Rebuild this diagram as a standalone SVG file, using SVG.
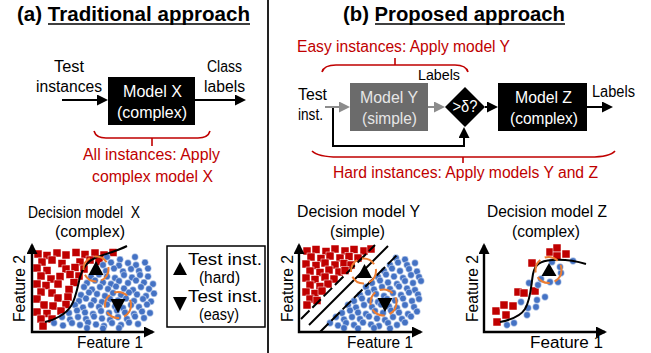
<svg xmlns="http://www.w3.org/2000/svg" xmlns:xlink="http://www.w3.org/1999/xlink" width="651" height="353" viewBox="0 0 651 353">
  <style>
    text { font-family: "Liberation Sans", Arial, sans-serif; font-size: 16px; fill: #000; }
    .title { font-weight: bold; font-size: 20px; }
    .mid { text-anchor: middle; }
    .red { fill: #c00000; }
    .wht { fill: #fff; }
    .lgt { fill: #e6e6e6; }
    .small { font-size: 14px; }
    .uline { stroke: #000; stroke-width: 1.6; }
    .brace { fill: none; stroke: #c00000; stroke-width: 1.6; }
    .conn { fill: none; stroke: #000; stroke-width: 2; }
    .gconn { fill: none; stroke: #8c8c8c; stroke-width: 2; }
    .axis { fill: none; stroke: #000; stroke-width: 2.4; }
    .curve { fill: none; stroke: #000; stroke-width: 2; }
    .sep { fill: none; stroke: #000; stroke-width: 2; }
    .sep.dash { stroke-dasharray: 12 4; }
    .ring { fill: none; stroke: #ed7d31; stroke-width: 2; stroke-dasharray: 14 5; }
    .tri { fill: #000; }
  </style>
  <defs>
    <marker id="ah" markerUnits="userSpaceOnUse" markerWidth="11" markerHeight="11" refX="9" refY="5.5" orient="auto-start-reverse">
      <path d="M0,0 L11,5.5 L0,11 z" fill="#000"/>
    </marker>
    <marker id="ahg" markerUnits="userSpaceOnUse" markerWidth="11" markerHeight="11" refX="9" refY="5.5" orient="auto">
      <path d="M0,0 L11,5.5 L0,11 z" fill="#8c8c8c"/>
    </marker>
    <rect id="sq" x="-4" y="-4" width="8" height="8" fill="#c00000" stroke="#fff" stroke-width="0.5"/>
    <circle id="dt" r="3.4" fill="#4472c4" stroke="#fff" stroke-width="0.5"/>
  </defs>

  <!-- divider between the two halves -->
  <line x1="268" y1="0" x2="268" y2="353" stroke="#222" stroke-width="2"/>

  <!-- ===== (a) Traditional approach ===== -->
  <g id="title-a">
    <text class="title" x="17" y="21" textLength="233" lengthAdjust="spacingAndGlyphs">(a) Traditional approach</text>
    <line class="uline" x1="48" y1="24" x2="250" y2="24"/>
  </g>
  <g id="node-test-instances">
    <text class="mid" x="69" y="72" textLength="30" lengthAdjust="spacingAndGlyphs">Test</text>
    <text class="mid" x="69" y="92" textLength="66" lengthAdjust="spacingAndGlyphs">instances</text>
  </g>
  <g id="node-model-x">
    <rect x="108" y="77" width="87" height="48" fill="#000"/>
    <text class="mid wht" x="152.5" y="97" textLength="59" lengthAdjust="spacingAndGlyphs">Model X</text>
    <text class="mid wht" x="152" y="118" textLength="70" lengthAdjust="spacingAndGlyphs">(complex)</text>
  </g>
  <g id="node-class-labels">
    <text class="mid" x="224.5" y="72" textLength="35" lengthAdjust="spacingAndGlyphs">Class</text>
    <text class="mid" x="224.5" y="92" textLength="41" lengthAdjust="spacingAndGlyphs">labels</text>
  </g>
  <g id="note-all-instances">
    <path class="brace" d="M94,131 Q96,138 106,138 H198 Q208,138 210,131 M152,138 V146"/>
    <text class="mid red" x="151.5" y="160" textLength="137" lengthAdjust="spacingAndGlyphs">All instances: Apply</text>
    <text class="mid red" x="152.5" y="182" textLength="121" lengthAdjust="spacingAndGlyphs">complex model X</text>
  </g>

  <!-- ===== (b) Proposed approach ===== -->
  <g id="title-b">
    <text class="title" x="343" y="21" textLength="222" lengthAdjust="spacingAndGlyphs">(b) Proposed approach</text>
    <line class="uline" x1="375" y1="24" x2="565" y2="24"/>
  </g>
  <g id="note-easy">
    <text class="mid red" x="403.5" y="52" textLength="213" lengthAdjust="spacingAndGlyphs">Easy instances: Apply model Y</text>
    <path class="brace" d="M322,72 Q324,65 336,65 H455 Q466,65 468,72 M395,65 V58"/>
  </g>
  <g id="label-y-out">
    <text class="mid small" x="439" y="80" textLength="42" lengthAdjust="spacingAndGlyphs">Labels</text>
  </g>
  <g id="node-test-inst">
    <text x="298" y="100" textLength="29" lengthAdjust="spacingAndGlyphs">Test</text>
    <text x="298" y="120" textLength="25" lengthAdjust="spacingAndGlyphs">inst.</text>
  </g>
  <g id="node-model-y">
    <rect x="350" y="83" width="78" height="48" fill="#6b6b6b"/>
    <text class="mid lgt" x="389" y="103" textLength="58" lengthAdjust="spacingAndGlyphs">Model Y</text>
    <text class="mid lgt" x="389.5" y="124" textLength="55" lengthAdjust="spacingAndGlyphs">(simple)</text>
  </g>
  <g id="node-threshold">
    <polygon points="465,87 485,107 465,127 445,107" fill="#000"/>
    <text class="mid wht" x="465" y="112" textLength="25" lengthAdjust="spacingAndGlyphs">&gt;δ?</text>
  </g>
  <g id="node-model-z">
    <rect x="498" y="83" width="89" height="48" fill="#000"/>
    <text class="mid wht" x="543.5" y="103" textLength="57" lengthAdjust="spacingAndGlyphs">Model Z</text>
    <text class="mid wht" x="544" y="124" textLength="68" lengthAdjust="spacingAndGlyphs">(complex)</text>
  </g>
  <g id="node-labels-z">
    <text class="mid" x="613.5" y="97" textLength="43" lengthAdjust="spacingAndGlyphs">Labels</text>
  </g>
  <g id="note-hard">
    <path class="brace" d="M312,151 Q318,157 338,157 H590 Q610,157 615,151 M463,157 V163"/>
    <text class="mid red" x="465.5" y="178" textLength="265" lengthAdjust="spacingAndGlyphs">Hard instances: Apply models Y and Z</text>
  </g>

  <!-- connectors -->
  <g id="connectors">
    <line class="conn" x1="62" y1="100" x2="106" y2="100" marker-end="url(#ah)"/>
    <line class="conn" x1="195" y1="100" x2="244" y2="100" marker-end="url(#ah)"/>
    <path class="conn" d="M333,107 V146 H464 V129" marker-end="url(#ah)"/>
    <line class="gconn" x1="325" y1="107" x2="348" y2="107" marker-end="url(#ahg)"/>
    <line class="gconn" x1="428" y1="107" x2="443" y2="107" marker-end="url(#ahg)"/>
    <line class="conn" x1="485" y1="107" x2="496" y2="107" marker-end="url(#ah)"/>
    <line class="conn" x1="587" y1="107" x2="611" y2="107" marker-end="url(#ah)"/>
  </g>

  <!-- ===== Plot: decision model X ===== -->
  <g id="plot-x">
    <text class="mid" x="84" y="218" textLength="112" lengthAdjust="spacingAndGlyphs" style="white-space:pre">Decision model  X</text>
    <text class="mid" x="90" y="237" textLength="70" lengthAdjust="spacingAndGlyphs">(complex)</text>
    <g id="x-red">
      <use href="#sq" x="38" y="254"/><use href="#sq" x="47" y="255.5"/><use href="#sq" x="57" y="253"/><use href="#sq" x="66" y="255"/><use href="#sq" x="76" y="252.5"/><use href="#sq" x="85" y="254.5"/><use href="#sq" x="95" y="253"/><use href="#sq" x="104" y="255"/><use href="#sq" x="113" y="252.5"/>
      <use href="#sq" x="42" y="262"/><use href="#sq" x="52" y="260"/><use href="#sq" x="62" y="263.5"/><use href="#sq" x="80" y="262"/><use href="#sq" x="90" y="260"/><use href="#sq" x="99" y="261.5"/>
      <use href="#sq" x="37" y="268"/><use href="#sq" x="47" y="270.5"/><use href="#sq" x="66" y="269"/><use href="#sq" x="75" y="267.5"/><use href="#sq" x="84" y="269"/>
      <use href="#sq" x="41" y="276"/><use href="#sq" x="51" y="279"/><use href="#sq" x="60" y="276.5"/><use href="#sq" x="70" y="274.5"/><use href="#sq" x="79" y="276"/>
      <use href="#sq" x="37" y="284"/><use href="#sq" x="46" y="285.5"/><use href="#sq" x="58" y="284"/><use href="#sq" x="74" y="282.5"/>
      <use href="#sq" x="41" y="292"/><use href="#sq" x="52" y="293"/><use href="#sq" x="69" y="289.5"/>
      <use href="#sq" x="37" y="299"/><use href="#sq" x="58" y="298"/><use href="#sq" x="68" y="297"/>
      <use href="#sq" x="44" y="305"/><use href="#sq" x="53" y="306"/><use href="#sq" x="66" y="304.5"/>
      <use href="#sq" x="37" y="312"/><use href="#sq" x="47" y="313.5"/><use href="#sq" x="61" y="311"/>
      <use href="#sq" x="41" y="319"/><use href="#sq" x="52" y="319"/>
      <use href="#sq" x="43" y="326"/>
    </g>
    <g id="x-blue">
      <use href="#dt" x="107" y="257"/><use href="#dt" x="120" y="259.5"/><use href="#dt" x="135" y="257"/>
      <use href="#dt" x="103" y="265"/><use href="#dt" x="111" y="262.5"/><use href="#dt" x="119" y="265.5"/><use href="#dt" x="128" y="263"/><use href="#dt" x="136" y="265"/><use href="#dt" x="145" y="262.5"/>
      <use href="#dt" x="106" y="271"/><use href="#dt" x="114" y="268.5"/><use href="#dt" x="123" y="271.5"/><use href="#dt" x="131" y="269"/><use href="#dt" x="139" y="271"/><use href="#dt" x="148" y="268.5"/>
      <use href="#dt" x="91" y="277"/><use href="#dt" x="99" y="274.5"/><use href="#dt" x="107" y="276.5"/><use href="#dt" x="115" y="278"/><use href="#dt" x="124" y="275"/><use href="#dt" x="132" y="277.5"/><use href="#dt" x="140" y="275"/><use href="#dt" x="148" y="276.5"/>
      <use href="#dt" x="87" y="283"/><use href="#dt" x="95" y="280.5"/><use href="#dt" x="103" y="282.5"/><use href="#dt" x="111" y="284"/><use href="#dt" x="119" y="281"/><use href="#dt" x="128" y="283"/><use href="#dt" x="136" y="280.5"/><use href="#dt" x="144" y="282.5"/><use href="#dt" x="153" y="284"/>
      <use href="#dt" x="84" y="287"/><use href="#dt" x="92" y="289.5"/><use href="#dt" x="100" y="287"/><use href="#dt" x="108" y="289"/><use href="#dt" x="116" y="286.5"/><use href="#dt" x="124" y="288.5"/><use href="#dt" x="133" y="290"/><use href="#dt" x="141" y="287"/><use href="#dt" x="149" y="289"/>
      <use href="#dt" x="81" y="295"/><use href="#dt" x="89" y="292.5"/><use href="#dt" x="97" y="294"/><use href="#dt" x="105" y="296"/><use href="#dt" x="113" y="293"/><use href="#dt" x="121" y="295"/><use href="#dt" x="129" y="292.5"/><use href="#dt" x="137" y="294.5"/><use href="#dt" x="146" y="296"/><use href="#dt" x="154" y="293.5"/>
      <use href="#dt" x="79" y="301"/><use href="#dt" x="86" y="298.5"/><use href="#dt" x="94" y="300.5"/><use href="#dt" x="102" y="302"/><use href="#dt" x="110" y="299"/><use href="#dt" x="118" y="300.5"/><use href="#dt" x="126" y="298.5"/><use href="#dt" x="134" y="301"/><use href="#dt" x="143" y="299"/><use href="#dt" x="151" y="301.5"/>
      <use href="#dt" x="75" y="305"/><use href="#dt" x="83" y="307.5"/><use href="#dt" x="91" y="305"/><use href="#dt" x="99" y="307"/><use href="#dt" x="107" y="304.5"/><use href="#dt" x="115" y="306.5"/><use href="#dt" x="123" y="308"/><use href="#dt" x="131" y="305"/><use href="#dt" x="139" y="307"/><use href="#dt" x="147" y="304.5"/>
      <use href="#dt" x="69" y="313"/><use href="#dt" x="77" y="310.5"/><use href="#dt" x="85" y="312.5"/><use href="#dt" x="93" y="314"/><use href="#dt" x="101" y="311"/><use href="#dt" x="109" y="313"/><use href="#dt" x="117" y="310.5"/><use href="#dt" x="125" y="312.5"/><use href="#dt" x="134" y="314"/><use href="#dt" x="142" y="311.5"/><use href="#dt" x="150" y="313"/>
      <use href="#dt" x="62" y="317"/><use href="#dt" x="70" y="319.5"/><use href="#dt" x="78" y="317"/><use href="#dt" x="86" y="319"/><use href="#dt" x="94" y="316.5"/><use href="#dt" x="102" y="318.5"/><use href="#dt" x="110" y="320"/><use href="#dt" x="118" y="317"/><use href="#dt" x="127" y="319"/><use href="#dt" x="135" y="316.5"/><use href="#dt" x="144" y="318"/>
      <use href="#dt" x="54" y="323"/><use href="#dt" x="63" y="325.5"/><use href="#dt" x="72" y="323"/><use href="#dt" x="80" y="325"/><use href="#dt" x="88" y="322.5"/><use href="#dt" x="96" y="324.5"/><use href="#dt" x="104" y="326"/><use href="#dt" x="112" y="323"/><use href="#dt" x="121" y="325"/><use href="#dt" x="129" y="322.5"/><use href="#dt" x="138" y="324"/>
      <use href="#dt" x="87" y="328"/><use href="#dt" x="103" y="328.5"/><use href="#dt" x="119" y="328"/>
    </g>
    <path class="curve" d="M45,322 C55,320 66,314 71,306 C76,298 78,285 80,277 C83,267 88,261 95,258 C105,254 117,251 127,246"/>
    <path class="axis" d="M32,245 V332 H153" marker-start="url(#ah)" marker-end="url(#ah)"/>
    <polygon class="tri" points="96,261 103.5,275 88.5,275"/>
    <polygon class="tri" points="110.5,299 125.5,299 118,313"/>
    <circle class="ring" cx="96" cy="269" r="12.5"/>
    <circle class="ring" cx="118" cy="305" r="13"/>
    <text class="mid" transform="translate(24.5,288.5) rotate(-90)" textLength="67" lengthAdjust="spacingAndGlyphs">Feature 2</text>
    <text class="mid" x="110" y="348" textLength="66" lengthAdjust="spacingAndGlyphs">Feature 1</text>
  </g>

  <!-- legend for the test-instance markers -->
  <g id="legend">
    <rect x="167" y="246" width="98" height="81" fill="#fff" stroke="#000" stroke-width="1.5"/>
    <polygon class="tri" points="180,262 187,275 173,275"/>
    <polygon class="tri" points="173,297 187,297 180,311"/>
    <text x="188" y="265" textLength="74" lengthAdjust="spacingAndGlyphs">Test inst.</text>
    <text x="199" y="283" textLength="41" lengthAdjust="spacingAndGlyphs">(hard)</text>
    <text x="188" y="302" textLength="74" lengthAdjust="spacingAndGlyphs">Test inst.</text>
    <text x="199" y="320" textLength="40" lengthAdjust="spacingAndGlyphs">(easy)</text>
  </g>

  <!-- ===== Plot: decision model Y ===== -->
  <g id="plot-y">
    <text class="mid" x="358.5" y="217" textLength="123" lengthAdjust="spacingAndGlyphs">Decision model Y</text>
    <text class="mid" x="357.5" y="237" textLength="55" lengthAdjust="spacingAndGlyphs">(simple)</text>
    <g id="y-red">
      <use href="#sq" x="307" y="251"/><use href="#sq" x="316" y="249.5"/><use href="#sq" x="326" y="251.5"/><use href="#sq" x="335" y="249"/><use href="#sq" x="345" y="251"/><use href="#sq" x="354" y="249.5"/><use href="#sq" x="364" y="251"/><use href="#sq" x="371" y="249"/>
      <use href="#sq" x="311" y="257"/><use href="#sq" x="321" y="258.5"/><use href="#sq" x="330" y="256"/><use href="#sq" x="340" y="258"/><use href="#sq" x="349" y="256.5"/><use href="#sq" x="358" y="258"/>
      <use href="#sq" x="306" y="264"/><use href="#sq" x="316" y="265.5"/><use href="#sq" x="325" y="263"/><use href="#sq" x="335" y="265"/><use href="#sq" x="344" y="263.5"/><use href="#sq" x="351" y="265"/>
      <use href="#sq" x="310" y="271"/><use href="#sq" x="320" y="272.5"/><use href="#sq" x="329" y="270"/><use href="#sq" x="339" y="272"/><use href="#sq" x="345" y="270.5"/>
      <use href="#sq" x="306" y="278"/><use href="#sq" x="315" y="279.5"/><use href="#sq" x="325" y="277"/><use href="#sq" x="334" y="279"/>
      <use href="#sq" x="310" y="285"/><use href="#sq" x="320" y="286.5"/><use href="#sq" x="328" y="284"/>
      <use href="#sq" x="306" y="292"/><use href="#sq" x="315" y="293.5"/><use href="#sq" x="322" y="291"/>
      <use href="#sq" x="310" y="299"/><use href="#sq" x="317" y="300.5"/>
      <use href="#sq" x="307" y="305"/>
    </g>
    <g id="y-blue">
      <use href="#dt" x="396" y="258"/><use href="#dt" x="405" y="259.5"/>
      <use href="#dt" x="390" y="265"/><use href="#dt" x="398" y="262.5"/><use href="#dt" x="407" y="265"/><use href="#dt" x="415" y="263"/>
      <use href="#dt" x="384" y="271"/><use href="#dt" x="392" y="268.5"/><use href="#dt" x="400" y="271"/><use href="#dt" x="409" y="269"/><use href="#dt" x="417" y="271.5"/>
      <use href="#dt" x="378" y="277"/><use href="#dt" x="386" y="274.5"/><use href="#dt" x="394" y="276.5"/><use href="#dt" x="403" y="278"/><use href="#dt" x="411" y="275"/><use href="#dt" x="419" y="277"/>
      <use href="#dt" x="372" y="283"/><use href="#dt" x="380" y="280.5"/><use href="#dt" x="388" y="282.5"/><use href="#dt" x="397" y="284"/><use href="#dt" x="405" y="281"/><use href="#dt" x="413" y="283"/><use href="#dt" x="421" y="281"/>
      <use href="#dt" x="366" y="287"/><use href="#dt" x="374" y="289.5"/><use href="#dt" x="382" y="287"/><use href="#dt" x="390" y="289"/><use href="#dt" x="399" y="286.5"/><use href="#dt" x="407" y="288.5"/><use href="#dt" x="415" y="290"/>
      <use href="#dt" x="360" y="295"/><use href="#dt" x="368" y="292.5"/><use href="#dt" x="376" y="294"/><use href="#dt" x="384" y="296"/><use href="#dt" x="393" y="293"/><use href="#dt" x="401" y="295"/><use href="#dt" x="409" y="292.5"/><use href="#dt" x="418" y="294.5"/>
      <use href="#dt" x="354" y="301"/><use href="#dt" x="362" y="298.5"/><use href="#dt" x="370" y="300.5"/><use href="#dt" x="378" y="302"/><use href="#dt" x="387" y="299"/><use href="#dt" x="395" y="300.5"/><use href="#dt" x="403" y="298.5"/><use href="#dt" x="412" y="301"/><use href="#dt" x="419" y="299"/>
      <use href="#dt" x="348" y="305"/><use href="#dt" x="356" y="307.5"/><use href="#dt" x="364" y="305"/><use href="#dt" x="372" y="307"/><use href="#dt" x="381" y="304.5"/><use href="#dt" x="389" y="306.5"/><use href="#dt" x="397" y="308"/><use href="#dt" x="405" y="305"/><use href="#dt" x="414" y="307"/>
      <use href="#dt" x="342" y="313"/><use href="#dt" x="350" y="310.5"/><use href="#dt" x="358" y="312.5"/><use href="#dt" x="366" y="314"/><use href="#dt" x="375" y="311"/><use href="#dt" x="383" y="313"/><use href="#dt" x="391" y="310.5"/><use href="#dt" x="399" y="312.5"/><use href="#dt" x="408" y="314"/><use href="#dt" x="417" y="311.5"/>
      <use href="#dt" x="336" y="317"/><use href="#dt" x="344" y="319.5"/><use href="#dt" x="352" y="317"/><use href="#dt" x="360" y="319"/><use href="#dt" x="369" y="316.5"/><use href="#dt" x="377" y="318.5"/><use href="#dt" x="385" y="320"/><use href="#dt" x="393" y="317"/><use href="#dt" x="402" y="319"/><use href="#dt" x="411" y="316.5"/>
      <use href="#dt" x="330" y="323"/><use href="#dt" x="338" y="325.5"/><use href="#dt" x="346" y="323"/><use href="#dt" x="354" y="325"/><use href="#dt" x="363" y="322.5"/><use href="#dt" x="371" y="324.5"/><use href="#dt" x="379" y="326"/><use href="#dt" x="388" y="323"/><use href="#dt" x="397" y="325"/><use href="#dt" x="405" y="322.5"/>
      <use href="#dt" x="344" y="328"/><use href="#dt" x="358" y="328.5"/><use href="#dt" x="374" y="328"/><use href="#dt" x="390" y="328.5"/>
    </g>
    <line class="sep dash" x1="301" y1="319" x2="375" y2="245"/>
    <line class="sep" x1="309" y1="325" x2="388" y2="246"/>
    <line class="sep dash" x1="320" y1="332" x2="398" y2="254"/>
    <path class="axis" d="M299,245 V332 H421" marker-start="url(#ah)" marker-end="url(#ah)"/>
    <polygon class="tri" points="364.5,264 372,278 357,278"/>
    <polygon class="tri" points="377.5,298 392.5,298 385,312"/>
    <circle class="ring" cx="363.5" cy="271" r="12.5"/>
    <circle class="ring" cx="383.5" cy="302.5" r="13"/>
    <text class="mid" transform="translate(293,288.5) rotate(-90)" textLength="67" lengthAdjust="spacingAndGlyphs">Feature 2</text>
    <text class="mid" x="380" y="348" textLength="66" lengthAdjust="spacingAndGlyphs">Feature 1</text>
  </g>

  <!-- ===== Plot: decision model Z ===== -->
  <g id="plot-z">
    <text class="mid" x="547" y="217" textLength="120" lengthAdjust="spacingAndGlyphs">Decision model Z</text>
    <text class="mid" x="546" y="237" textLength="68" lengthAdjust="spacingAndGlyphs">(complex)</text>
    <g id="z-red">
      <use href="#sq" x="496" y="311"/><use href="#sq" x="504" y="305"/><use href="#sq" x="513" y="306"/><use href="#sq" x="497" y="322"/><use href="#sq" x="506" y="315"/>
      <use href="#sq" x="518" y="292"/><use href="#sq" x="524" y="293"/><use href="#sq" x="535" y="291"/>
      <use href="#sq" x="532" y="263"/><use href="#sq" x="550" y="252"/><use href="#sq" x="557" y="248"/><use href="#sq" x="557" y="256"/><use href="#sq" x="566" y="254"/>
    </g>
    <g id="z-blue">
      <use href="#dt" x="507" y="325"/><use href="#dt" x="514" y="323"/><use href="#dt" x="521" y="302"/><use href="#dt" x="527" y="315"/><use href="#dt" x="528" y="308"/>
      <use href="#dt" x="537" y="300"/><use href="#dt" x="536" y="307"/><use href="#dt" x="545" y="297"/><use href="#dt" x="529" y="283"/><use href="#dt" x="538" y="285"/>
      <use href="#dt" x="541" y="279"/><use href="#dt" x="550" y="282"/><use href="#dt" x="558" y="282"/><use href="#dt" x="561" y="273"/><use href="#dt" x="560" y="267"/>
      <use href="#dt" x="552" y="262"/><use href="#dt" x="573" y="261"/>
    </g>
    <path class="curve" d="M500,322 C510,320 520,317 525,309 C531,299 531,285 533,274 C535,264 540,261 552,260 C565,259 576,261 586,264"/>
    <path class="axis" d="M484,245 V332 H605" marker-start="url(#ah)" marker-end="url(#ah)"/>
    <polygon class="tri" points="549,263 556.5,276 541.5,276"/>
    <circle class="ring" cx="548.5" cy="270" r="13"/>
    <text class="mid" transform="translate(478,288.5) rotate(-90)" textLength="67" lengthAdjust="spacingAndGlyphs">Feature 2</text>
    <text class="mid" x="566.5" y="348" textLength="73" lengthAdjust="spacingAndGlyphs">Feature 1</text>
  </g>
</svg>
